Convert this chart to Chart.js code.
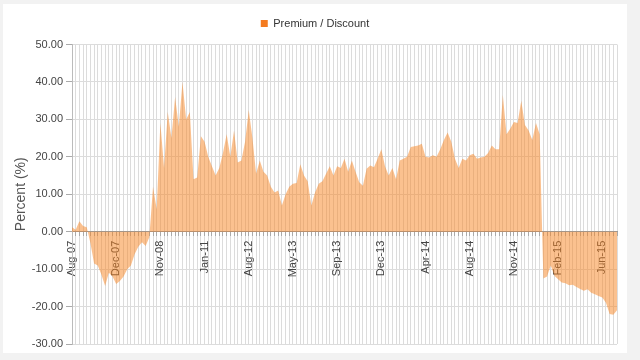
<!DOCTYPE html>
<html><head><meta charset="utf-8">
<script src="https://cdn.jsdelivr.net/npm/chart.js@4.4.0/dist/chart.umd.min.js"></script>
<style>
html,body{margin:0;padding:0;background:#f2f2f2;width:640px;height:360px;overflow:hidden;}
#card{position:absolute;left:3px;top:4px;width:624px;height:349px;background:#fff;}
canvas{display:block;}
</style></head><body>
<div id="card"><canvas id="c" width="624" height="349"></canvas></div>
<script>
const seriesName = 'Premium / Discount';
const axisTitle = 'Percent (%)';
const tickLabels = ['Aug-07','Dec-07','Nov-08','Jan-11','Aug-12','May-13','Sep-13','Dec-13','Apr-14','Aug-14','Nov-14','Feb-15','Jun-15'];
const tickEvery = 12;
const values = [
  1.2, 0.5, 2.8, 1.5, 1.2, -3, -8.5, -9, -11.5, -14.5,
  -11, -12, -14, -13.2, -12, -10, -9, -6, -4, -2.8,
  -3.8, -1.5, 12, 6, 29, 17, 32, 25, 36, 28,
  40, 30, 32, 14, 14.5, 25.5, 24, 20, 17.5, 15,
  17, 21, 26, 20, 27, 18.5, 19, 24, 32.5, 25,
  15.5, 19, 16, 15, 12, 10.5, 11, 7, 10, 12,
  12.8, 13, 18, 15, 13.5, 7, 10.5, 12.8, 13.5, 15.5,
  17.5, 15, 17.5, 17, 19.5, 16, 19, 16, 13.2, 12.3,
  16.8, 17.7, 17.2, 19.5, 22, 17.5, 15, 17, 14, 19,
  19.5, 20, 22.6, 22.8, 23, 23.5, 20, 19.8, 20.4, 20,
  22, 24.5, 26.5, 24, 19.5, 17, 19.5, 19, 20.4, 20.8,
  19.5, 19.8, 20, 21, 23, 22, 22, 36.5, 26, 27.5,
  29.3, 29, 35, 28.5, 27, 24.5, 29, 26, -12.5, -12,
  -9, -11.8, -12.7, -13.6, -13.8, -14.3, -14.2, -14.8, -15.3, -15.8,
  -15.4, -16.3, -16.7, -17.2, -17.6, -19, -22, -22.2, -21
];
const yMin = -30, yMax = 50, yStep = 10;
const categories = values.map((v, i) => i % tickEvery === 0 ? (tickLabels[i / tickEvery] || '') : '');

const FONT = '"Liberation Sans", Arial, sans-serif';
const chart = new Chart(document.getElementById('c'), {
  type: 'line',
  data: {
    labels: categories,
    datasets: [{
      label: seriesName,
      data: values,
      fill: 'origin',
      backgroundColor: 'rgba(247,131,31,0.5)',
      borderColor: 'rgba(247,131,31,0.5)',
      borderWidth: 0,
      pointRadius: 0,
      tension: 0
    }]
  },
  options: {
    responsive: false,
    animation: false,
    devicePixelRatio: 1,
    layout: { padding: { left: 0, right: 10, top: 0, bottom: 9 } },
    plugins: {
      tooltip: { enabled: false },
      legend: {
        position: 'top',
        labels: {
          font: { family: FONT, size: 11 },
          color: '#333',
          boxWidth: 7,
          boxHeight: 7,
          padding: 14,
          generateLabels: (ch) => [{
            text: seriesName, fillStyle: '#f47b20', strokeStyle: '#f47b20',
            lineWidth: 0, hidden: false, datasetIndex: 0, fontColor: '#333'
          }]
        }
      }
    },
    scales: {
      x: {
        type: 'category',
        position: { y: 0 },
        offset: false,
        afterFit: (s) => { s.paddingLeft = 0; s.paddingRight = 0; s.paddingTop = 0; s.paddingBottom = 0; },
        grid: { color: '#dcdcdc', tickColor: '#aaa', tickLength: 4, drawOnChartArea: true },
        border: { display: true, color: '#999', width: 1 },
        ticks: {
          autoSkip: false, minRotation: 90, maxRotation: 90, padding: 5,
          font: { family: FONT, size: 11 }, color: '#444'
        }
      },
      y: {
        min: yMin, max: yMax,
        afterFit: (s) => { s.width = 69; s.paddingTop = 0; s.paddingBottom = 0; },
        grid: { color: '#dcdcdc', tickColor: '#aaa', tickLength: 6 },
        border: { display: true, color: '#bbb' },
        ticks: {
          stepSize: yStep, padding: 3,
          font: { family: FONT, size: 11 }, color: '#444',
          callback: (v) => Number(v).toFixed(2)
        },
        title: {
          display: true, text: axisTitle, color: '#555',
          font: { family: FONT, size: 14 },
          padding: { top: 10, bottom: 0 }
        }
      }
    }
  }
});
const baseFit = chart.legend.fit;
chart.legend.fit = function () { baseFit.call(this); this.height += 5.5; };
const baseDraw = chart.legend.draw;
chart.legend.draw = function () {
  const ctx = this.ctx;
  ctx.save(); ctx.translate(5, 0); baseDraw.call(this); ctx.restore();
};
chart.update();
</script>
</body></html>
